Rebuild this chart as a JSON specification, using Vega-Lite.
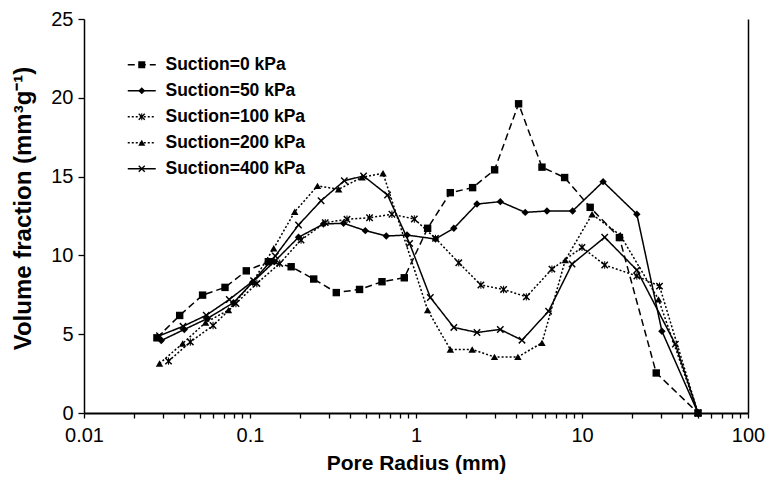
{
  "$schema": "https://vega.github.io/schema/vega-lite/v6.json",
  "autosize": {"type": "none"},
  "width": 664,
  "height": 394,
  "padding": {"left": 84, "top": 19, "right": 19, "bottom": 65},
  "background": "white",
  "config": {
    "view": {"stroke": null},
    "font": "Liberation Sans",
    "axis": {"grid": false, "labelFont": "Liberation Sans", "titleFont": "Liberation Sans", "labelColor": "black", "titleColor": "black", "domainColor": "black", "labelFlush": false}
  },
  "resolve": {"axis": {"y": "independent"}},
  "data": {"values": [
    {"s": "Suction=0 kPa", "r": 0.0275, "v": 4.77},
    {"s": "Suction=0 kPa", "r": 0.0377, "v": 6.19},
    {"s": "Suction=0 kPa", "r": 0.0518, "v": 7.48},
    {"s": "Suction=0 kPa", "r": 0.0707, "v": 7.97},
    {"s": "Suction=0 kPa", "r": 0.095, "v": 9.02},
    {"s": "Suction=0 kPa", "r": 0.129, "v": 9.6},
    {"s": "Suction=0 kPa", "r": 0.177, "v": 9.28},
    {"s": "Suction=0 kPa", "r": 0.242, "v": 8.5},
    {"s": "Suction=0 kPa", "r": 0.331, "v": 7.64},
    {"s": "Suction=0 kPa", "r": 0.457, "v": 7.84},
    {"s": "Suction=0 kPa", "r": 0.624, "v": 8.33},
    {"s": "Suction=0 kPa", "r": 0.85, "v": 8.58},
    {"s": "Suction=0 kPa", "r": 1.175, "v": 11.72},
    {"s": "Suction=0 kPa", "r": 1.609, "v": 13.98},
    {"s": "Suction=0 kPa", "r": 2.193, "v": 14.3},
    {"s": "Suction=0 kPa", "r": 2.976, "v": 15.43},
    {"s": "Suction=0 kPa", "r": 4.15, "v": 19.62},
    {"s": "Suction=0 kPa", "r": 5.74, "v": 15.6},
    {"s": "Suction=0 kPa", "r": 7.86, "v": 14.94},
    {"s": "Suction=0 kPa", "r": 11.2, "v": 13.05},
    {"s": "Suction=0 kPa", "r": 16.8, "v": 11.13},
    {"s": "Suction=0 kPa", "r": 28.0, "v": 2.54},
    {"s": "Suction=0 kPa", "r": 50, "v": 0},
    {"s": "Suction=50 kPa", "r": 0.0292, "v": 4.6},
    {"s": "Suction=50 kPa", "r": 0.0402, "v": 5.3},
    {"s": "Suction=50 kPa", "r": 0.0555, "v": 6.0},
    {"s": "Suction=50 kPa", "r": 0.0796, "v": 7.0},
    {"s": "Suction=50 kPa", "r": 0.1037, "v": 8.3},
    {"s": "Suction=50 kPa", "r": 0.14, "v": 9.6},
    {"s": "Suction=50 kPa", "r": 0.196, "v": 11.15},
    {"s": "Suction=50 kPa", "r": 0.277, "v": 11.99},
    {"s": "Suction=50 kPa", "r": 0.366, "v": 12.04},
    {"s": "Suction=50 kPa", "r": 0.495, "v": 11.57},
    {"s": "Suction=50 kPa", "r": 0.662, "v": 11.23},
    {"s": "Suction=50 kPa", "r": 0.883, "v": 11.29},
    {"s": "Suction=50 kPa", "r": 1.31, "v": 11.04},
    {"s": "Suction=50 kPa", "r": 1.69, "v": 11.72},
    {"s": "Suction=50 kPa", "r": 2.33, "v": 13.26},
    {"s": "Suction=50 kPa", "r": 3.22, "v": 13.41},
    {"s": "Suction=50 kPa", "r": 4.55, "v": 12.73},
    {"s": "Suction=50 kPa", "r": 6.15, "v": 12.82},
    {"s": "Suction=50 kPa", "r": 8.78, "v": 12.82},
    {"s": "Suction=50 kPa", "r": 13.4, "v": 14.68},
    {"s": "Suction=50 kPa", "r": 21.4, "v": 12.61},
    {"s": "Suction=50 kPa", "r": 30.3, "v": 5.19},
    {"s": "Suction=50 kPa", "r": 50, "v": 0},
    {"s": "Suction=100 kPa", "r": 0.0323, "v": 3.29},
    {"s": "Suction=100 kPa", "r": 0.0437, "v": 4.51},
    {"s": "Suction=100 kPa", "r": 0.0599, "v": 5.55},
    {"s": "Suction=100 kPa", "r": 0.0823, "v": 6.95},
    {"s": "Suction=100 kPa", "r": 0.11, "v": 8.22},
    {"s": "Suction=100 kPa", "r": 0.151, "v": 9.49},
    {"s": "Suction=100 kPa", "r": 0.203, "v": 10.98},
    {"s": "Suction=100 kPa", "r": 0.284, "v": 12.08},
    {"s": "Suction=100 kPa", "r": 0.384, "v": 12.29},
    {"s": "Suction=100 kPa", "r": 0.525, "v": 12.39},
    {"s": "Suction=100 kPa", "r": 0.716, "v": 12.61},
    {"s": "Suction=100 kPa", "r": 0.977, "v": 12.31},
    {"s": "Suction=100 kPa", "r": 1.31, "v": 11.08},
    {"s": "Suction=100 kPa", "r": 1.81, "v": 9.53},
    {"s": "Suction=100 kPa", "r": 2.46, "v": 8.12},
    {"s": "Suction=100 kPa", "r": 3.37, "v": 7.84},
    {"s": "Suction=100 kPa", "r": 4.62, "v": 7.37},
    {"s": "Suction=100 kPa", "r": 6.59, "v": 9.13},
    {"s": "Suction=100 kPa", "r": 10.0, "v": 10.51},
    {"s": "Suction=100 kPa", "r": 13.7, "v": 9.39},
    {"s": "Suction=100 kPa", "r": 21.4, "v": 8.69},
    {"s": "Suction=100 kPa", "r": 29.3, "v": 8.05},
    {"s": "Suction=100 kPa", "r": 50, "v": 0},
    {"s": "Suction=200 kPa", "r": 0.0285, "v": 3.14},
    {"s": "Suction=200 kPa", "r": 0.0393, "v": 4.41},
    {"s": "Suction=200 kPa", "r": 0.054, "v": 5.74},
    {"s": "Suction=200 kPa", "r": 0.0742, "v": 6.53},
    {"s": "Suction=200 kPa", "r": 0.104, "v": 8.33},
    {"s": "Suction=200 kPa", "r": 0.139, "v": 10.45},
    {"s": "Suction=200 kPa", "r": 0.186, "v": 12.77},
    {"s": "Suction=200 kPa", "r": 0.255, "v": 14.41},
    {"s": "Suction=200 kPa", "r": 0.342, "v": 14.2},
    {"s": "Suction=200 kPa", "r": 0.473, "v": 14.96},
    {"s": "Suction=200 kPa", "r": 0.633, "v": 15.21},
    {"s": "Suction=200 kPa", "r": 1.175, "v": 6.53},
    {"s": "Suction=200 kPa", "r": 1.61, "v": 4.03},
    {"s": "Suction=200 kPa", "r": 2.18, "v": 4.03},
    {"s": "Suction=200 kPa", "r": 2.97, "v": 3.56},
    {"s": "Suction=200 kPa", "r": 4.11, "v": 3.56},
    {"s": "Suction=200 kPa", "r": 5.74, "v": 4.45},
    {"s": "Suction=200 kPa", "r": 7.93, "v": 9.7},
    {"s": "Suction=200 kPa", "r": 11.5, "v": 12.61},
    {"s": "Suction=200 kPa", "r": 17.0, "v": 11.29},
    {"s": "Suction=200 kPa", "r": 28.9, "v": 7.21},
    {"s": "Suction=200 kPa", "r": 50, "v": 0},
    {"s": "Suction=400 kPa", "r": 0.0285, "v": 4.9},
    {"s": "Suction=400 kPa", "r": 0.0395, "v": 5.5},
    {"s": "Suction=400 kPa", "r": 0.0545, "v": 6.2},
    {"s": "Suction=400 kPa", "r": 0.075, "v": 7.2},
    {"s": "Suction=400 kPa", "r": 0.105, "v": 8.4},
    {"s": "Suction=400 kPa", "r": 0.142, "v": 9.96},
    {"s": "Suction=400 kPa", "r": 0.196, "v": 11.93},
    {"s": "Suction=400 kPa", "r": 0.268, "v": 13.47},
    {"s": "Suction=400 kPa", "r": 0.37, "v": 14.74},
    {"s": "Suction=400 kPa", "r": 0.483, "v": 15.04},
    {"s": "Suction=400 kPa", "r": 0.674, "v": 13.83},
    {"s": "Suction=400 kPa", "r": 0.915, "v": 10.76},
    {"s": "Suction=400 kPa", "r": 1.22, "v": 7.33},
    {"s": "Suction=400 kPa", "r": 1.69, "v": 5.43},
    {"s": "Suction=400 kPa", "r": 2.33, "v": 5.11},
    {"s": "Suction=400 kPa", "r": 3.22, "v": 5.3},
    {"s": "Suction=400 kPa", "r": 4.35, "v": 4.62},
    {"s": "Suction=400 kPa", "r": 6.29, "v": 6.46},
    {"s": "Suction=400 kPa", "r": 8.71, "v": 9.45},
    {"s": "Suction=400 kPa", "r": 13.7, "v": 11.15},
    {"s": "Suction=400 kPa", "r": 21.4, "v": 9.07},
    {"s": "Suction=400 kPa", "r": 36.5, "v": 4.37},
    {"s": "Suction=400 kPa", "r": 50, "v": 0}
  ]},
  "encoding": {
    "x": {"field": "r", "type": "quantitative",
      "scale": {"type": "log", "domain": [0.01, 100], "nice": false},
      "axis": {
        "values": [0.01, 0.02, 0.03, 0.04, 0.05, 0.06, 0.07, 0.08, 0.09, 0.1, 0.2, 0.3, 0.4, 0.5, 0.6, 0.7, 0.8, 0.9, 1, 2, 3, 4, 5, 6, 7, 8, 9, 10, 20, 30, 40, 50, 60, 70, 80, 90, 100],
        "labelExpr": "indexof([0.01,0.1,1,10,100], datum.value) >= 0 ? format(datum.value, '~g') : ''",
        "labelOverlap": false,
        "labelBound": false,
        "labelFontSize": 20,
        "labelPadding": 7,
        "ticks": true,
        "tickSize": 5,
        "tickWidth": 1.3,
        "tickColor": "black",
        "domainWidth": 2,
        "title": "Pore Radius (mm)",
        "titleFontSize": 21,
        "titleFontWeight": "bold",
        "titlePadding": 7
      }
    }
  },
  "layer": [
    {
      "mark": {"type": "line", "color": "black", "strokeWidth": 1.5},
      "encoding": {
        "y": {"field": "v", "type": "quantitative",
          "scale": {"domain": [0, 25], "nice": false},
          "axis": {
            "orient": "left",
            "values": [0, 5, 10, 15, 20, 25],
            "labelFontSize": 20,
            "labelPadding": 5,
            "ticks": true,
            "tickSize": 6,
            "tickWidth": 1.3,
            "tickColor": "black",
            "domainWidth": 1.5,
            "title": "Volume fraction (mm³g⁻¹)",
            "titleFontSize": 24,
            "titleFontWeight": "bold",
            "titleX": -49,
            "titleY": 189
          }
        },
        "strokeDash": {"field": "s", "type": "nominal",
          "sort": ["Suction=0 kPa", "Suction=50 kPa", "Suction=100 kPa", "Suction=200 kPa", "Suction=400 kPa"],
          "scale": {"range": [[7, 4], [1, 0], [2, 2], [2, 2], [1, 0]]},
          "legend": {
            "orient": "none", "legendX": 49, "legendY": 37, "title": null, "padding": 0,
            "symbolType": "M-4,0L4,0", "symbolSize": 49, "symbolStrokeWidth": 1.5,
            "symbolStrokeColor": "black", "symbolFillColor": "transparent",
            "labelFont": "Liberation Sans", "labelFontWeight": "bold", "labelFontSize": 17.5,
            "labelColor": "black", "labelOffset": 15, "rowPadding": 7
          }
        }
      }
    },
    {
      "mark": {"type": "point", "filled": true, "fill": "black", "strokeWidth": 0, "size": 55, "opacity": 1},
      "encoding": {
        "y": {"field": "v", "type": "quantitative",
          "axis": {"orient": "right", "labels": false, "ticks": false, "title": null, "domainWidth": 1.5}},
        "shape": {"field": "s", "type": "nominal",
          "scale": {
            "domain": ["Suction=0 kPa", "Suction=50 kPa", "Suction=100 kPa", "Suction=200 kPa", "Suction=400 kPa"],
            "range": ["square", "diamond",
              "M-1,-0.72L-0.72,-1L0,-0.28L0.72,-1L1,-0.72L0.28,0L1,0.72L0.72,1L0,0.28L-0.72,1L-1,0.72L-0.28,0ZM-0.14,-1L0.14,-1L0.14,1L-0.14,1Z",
              "triangle-up",
              "M-1,-0.72L-0.72,-1L0,-0.28L0.72,-1L1,-0.72L0.28,0L1,0.72L0.72,1L0,0.28L-0.72,1L-1,0.72L-0.28,0Z"]
          },
          "legend": {
            "orient": "none", "legendX": 49, "legendY": 37, "title": null, "padding": 0,
            "symbolSize": 49, "symbolStrokeWidth": 0,
            "symbolFillColor": "black",
            "labelFont": "Liberation Sans", "labelFontWeight": "bold", "labelFontSize": 17.5,
            "labelOpacity": 0, "labelOffset": 15, "rowPadding": 7
          }
        }
      }
    }
  ]
}
